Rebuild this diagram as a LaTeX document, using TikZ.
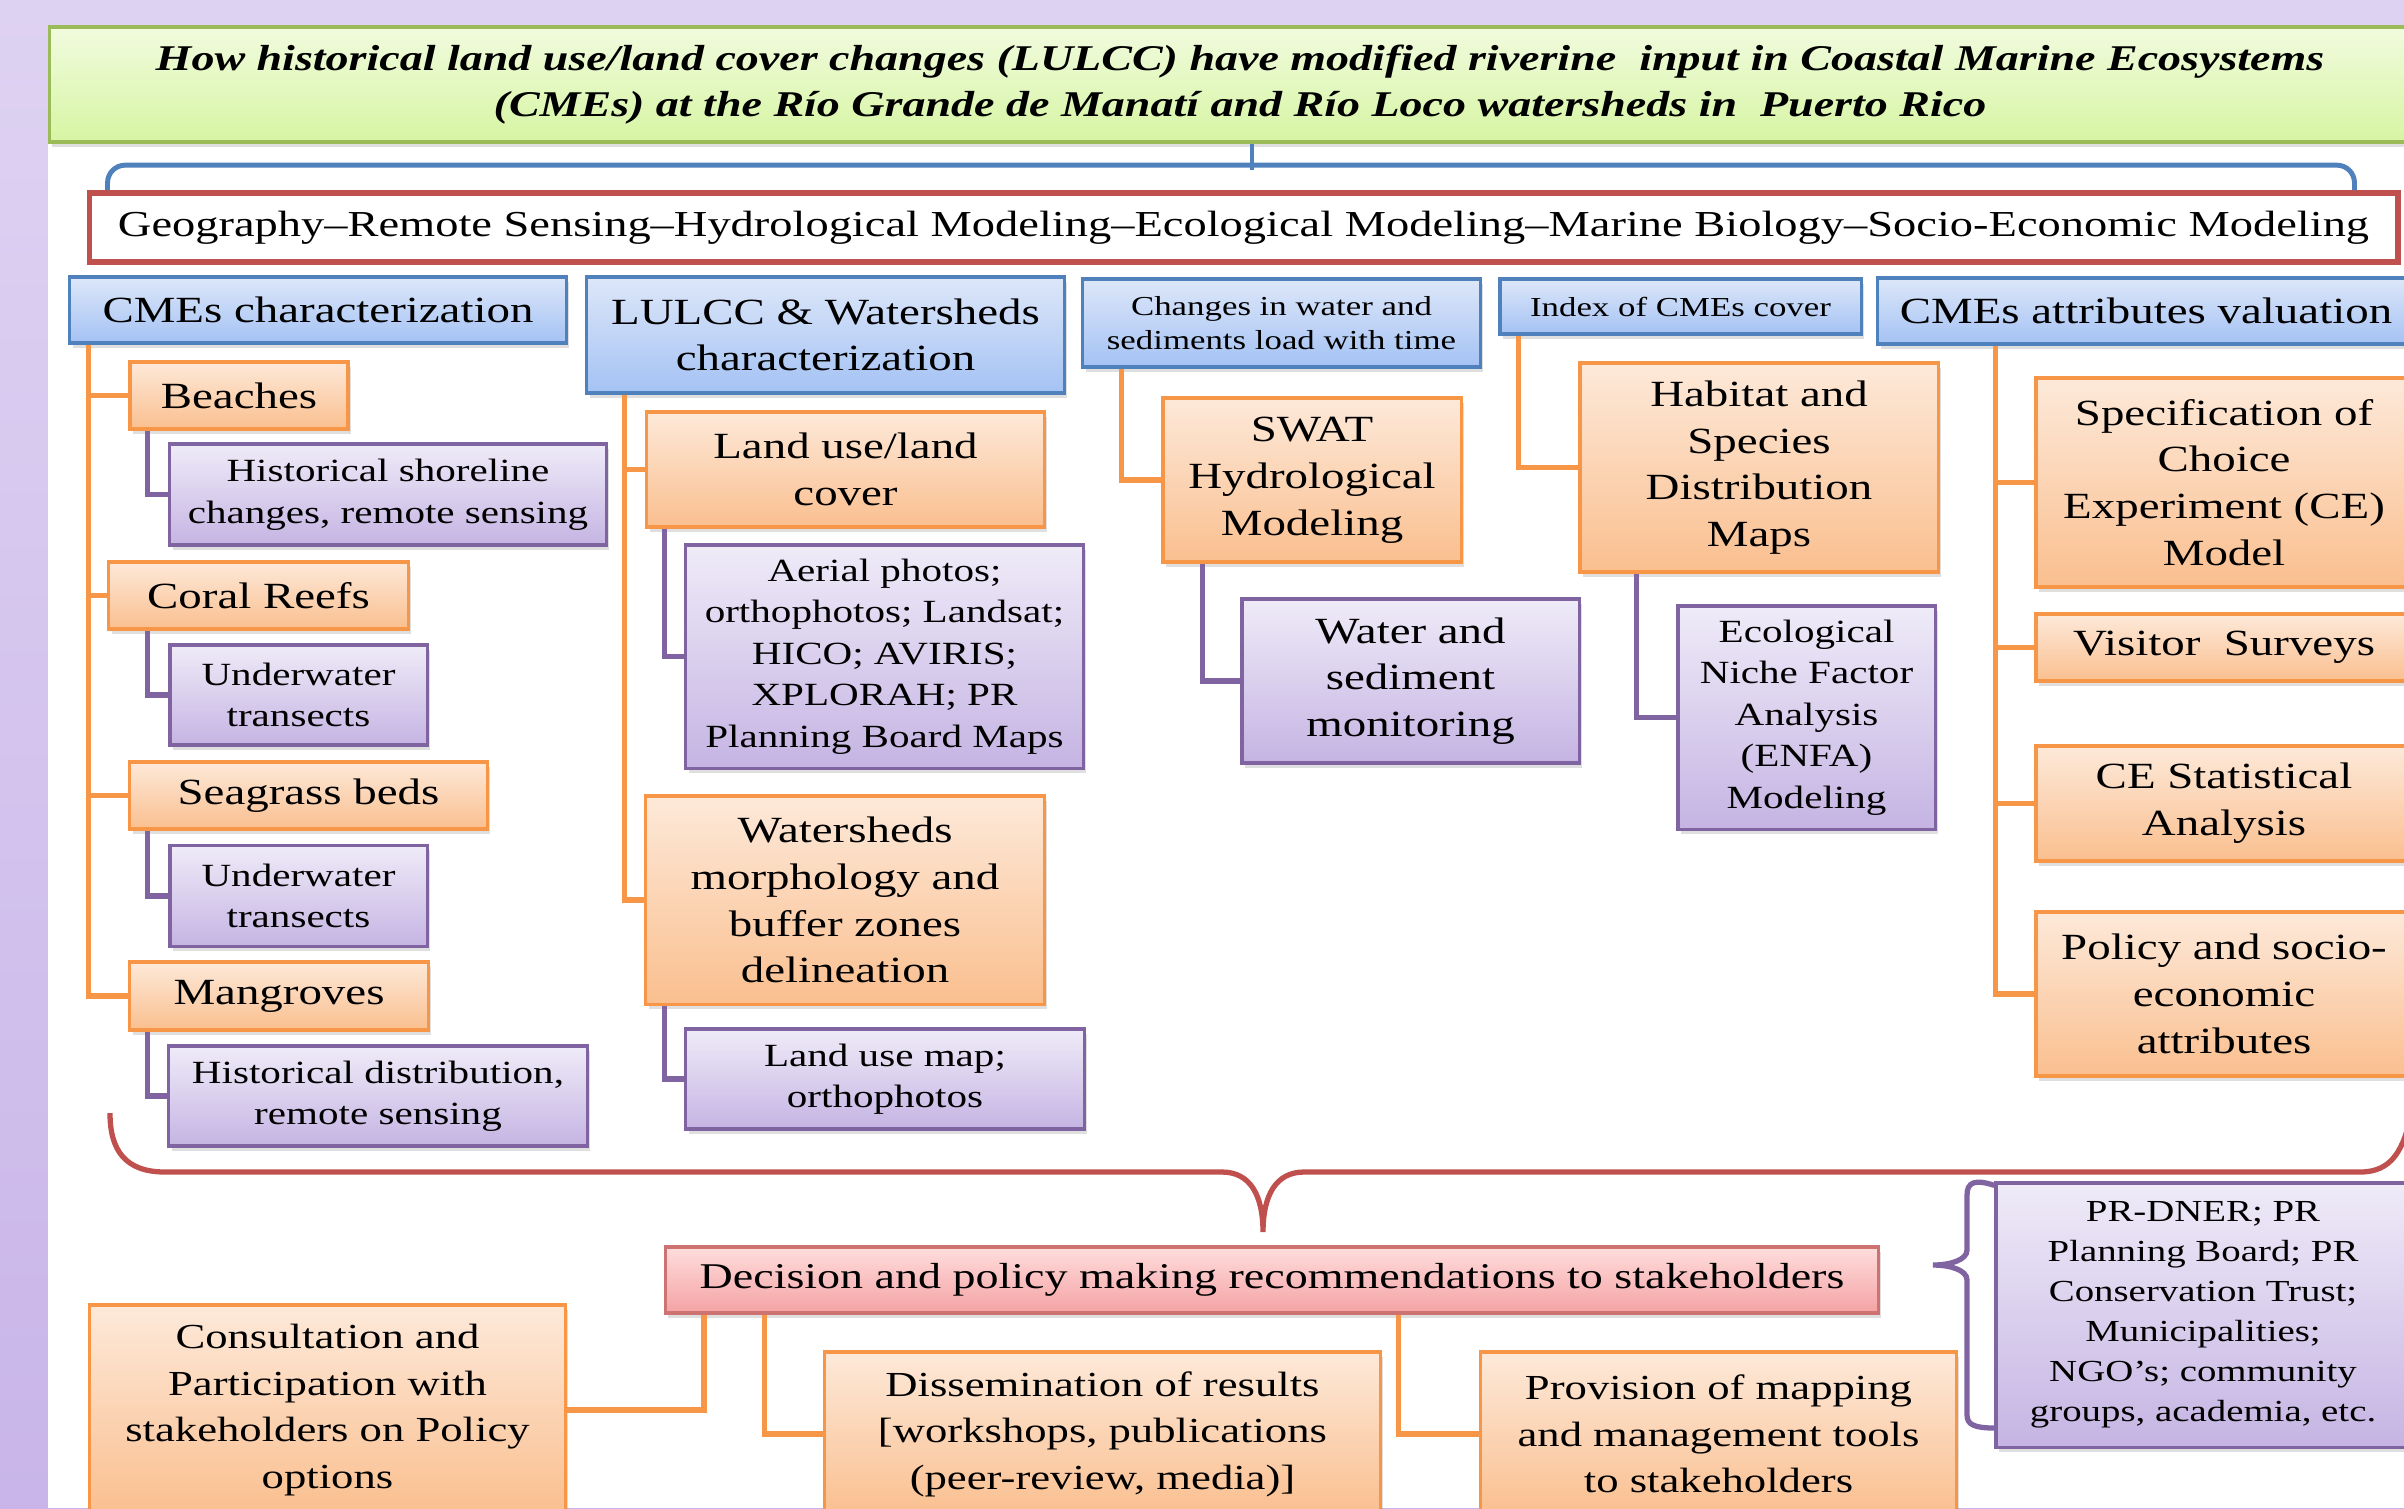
\documentclass[tikz,border=0pt]{standalone}
\usepackage{fontspec}
\setmainfont[FakeStretch=1.27]{Liberation Serif}
\usetikzlibrary{shadows}

\definecolor{lavtop}{HTML}{DED2F2}
\definecolor{lavbot}{HTML}{C9B5E9}
\definecolor{obord}{HTML}{F79646}
\definecolor{otop}{HTML}{FDE9D9}
\definecolor{obot}{HTML}{FABF8F}
\definecolor{pbord}{HTML}{8064A2}
\definecolor{ptop}{HTML}{EFEBF8}
\definecolor{pbot}{HTML}{C5B4E3}
\definecolor{bbord}{HTML}{4F81BD}
\definecolor{btop}{HTML}{DDE7F9}
\definecolor{bbot}{HTML}{A4C2F4}
\definecolor{gbord}{HTML}{9BBB59}
\definecolor{gtop}{HTML}{F1FBDE}
\definecolor{gbot}{HTML}{D6F5A3}
\definecolor{rbord}{HTML}{C0504D}
\definecolor{rtop}{HTML}{FFDDDD}
\definecolor{rbot}{HTML}{F4A2A4}

\begin{document}
\begin{tikzpicture}[x=0.01cm,y=-0.01cm,
  box/.style={draw,line width=0.9pt,align=center,inner sep=1pt,
    drop shadow={shadow xshift=0.8pt,shadow yshift=-1.4pt,opacity=0.25}},
  headbox/.style={box,draw=bbord,top color=btop,bottom color=bbot,
    font=\fontsize{10.5}{13}\selectfont},
  stepbox/.style={box,draw=obord,top color=otop,bottom color=obot,
    font=\fontsize{10.5}{13.3}\selectfont},
  toolbox/.style={box,draw=pbord,top color=ptop,bottom color=pbot,
    font=\fontsize{9.2}{11.8}\selectfont},
  oline/.style={draw=obord,line width=1.5pt},
  pline/.style={draw=pbord,line width=1.5pt},
  brline/.style={draw=bbord,line width=1.4pt},
  rline/.style={draw=rbord,line width=1.5pt}]
\useasboundingbox (0,0) rectangle (2404,1508);
\shade[top color=lavtop,bottom color=lavbot] (0,0) rectangle (2404,1508);
\fill[white] (48,27) rectangle (2404,1508);

% title and disciplines
\node[box,draw=gbord,top color=gtop,bottom color=gbot,minimum width=23.8cm,minimum height=1.15cm,
  font=\fontsize{10.3}{13.2}\selectfont\bfseries\itshape] (title) at (1240,84.5)
  {How historical land use/land cover changes (LULCC) have modified riverine\ \ input in Coastal Marine Ecosystems\\
   (CMEs) at the Río Grande de Manatí and Río Loco watersheds in\ \ Puerto Rico};
\node[draw=rbord,line width=1.6pt,fill=white,minimum width=23.07cm,minimum height=0.69cm,
  font=\fontsize{10.4}{12}\selectfont] (disc) at (1243.5,227.5)
  {Geography--Remote Sensing--Hydrological Modeling--Ecological Modeling--Marine Biology--Socio-Economic Modeling};
\draw[brline] ([xshift=1.2mm]title.south) -- ++(0,26);
\draw[brline,rounded corners=5pt] ([xshift=2.1mm]disc.north west) -- ++(0,-25) -| ([xshift=-4.6mm]disc.north east);

% headings
\node[headbox,minimum width=4.96cm,minimum height=0.66cm] (cme) at (318,310) {CMEs characterization};
\node[headbox,minimum width=4.77cm,minimum height=1.16cm] (lulcc) at (825.5,335) {LULCC \& Watersheds\\characterization};
\node[headbox,minimum width=3.97cm,minimum height=0.88cm,font=\fontsize{7.8}{9.8}\selectfont] (chg) at (1281.5,323)
  {Changes in water and\\sediments load with time};
\node[headbox,minimum width=3.61cm,minimum height=0.55cm,font=\fontsize{7.8}{9.8}\selectfont] (idx) at (1680.5,306.5) {Index of CMEs cover};
\node[headbox,minimum width=5.36cm,minimum height=0.66cm] (val) at (2146,311) {CMEs attributes valuation};

% CMEs characterization
\node[stepbox,minimum width=2.18cm,minimum height=0.67cm] (beach) at (239,395.5) {Beaches};
\node[toolbox,minimum width=4.36cm,minimum height=1.01cm] (shore) at (388,494.5) {Historical shoreline\\changes, remote sensing};
\node[stepbox,minimum width=2.99cm,minimum height=0.67cm] (coral) at (258.5,595.5) {Coral Reefs};
\node[toolbox,minimum width=2.57cm,minimum height=1cm] (uw1) at (298.5,695) {Underwater\\transects};
\node[stepbox,minimum width=3.57cm,minimum height=0.67cm] (seag) at (308.5,795.5) {Seagrass beds};
\node[toolbox,minimum width=2.57cm,minimum height=1.01cm] (uw2) at (298.5,896) {Underwater\\transects};
\node[stepbox,minimum width=2.98cm,minimum height=0.68cm] (mang) at (279,996) {Mangroves};
\node[toolbox,minimum width=4.18cm,minimum height=1cm] (hdist) at (378,1096) {Historical distribution,\\remote sensing};
\draw[oline] ([xshift=2mm]cme.south west) |- (beach.west);
\draw[oline] ([xshift=2mm]cme.south west) |- (coral.west);
\draw[oline] ([xshift=2mm]cme.south west) |- (seag.west);
\draw[oline] ([xshift=2mm]cme.south west) |- (mang.west);
\draw[pline] ([xshift=1.9mm]beach.south west) |- (shore.west);
\draw[pline] ([xshift=4mm]coral.south west) |- (uw1.west);
\draw[pline] ([xshift=1.9mm]seag.south west) |- (uw2.west);
\draw[pline] ([xshift=1.9mm]mang.south west) |- (hdist.west);

% LULCC and watersheds
\node[stepbox,minimum width=3.97cm,minimum height=1.15cm] (landuse) at (845.5,469.5) {Land use/land\\cover};
\node[toolbox,minimum width=3.97cm,minimum height=2.23cm] (aerial) at (884.5,656.5)
  {Aerial photos;\\orthophotos; Landsat;\\HICO; AVIRIS;\\XPLORAH; PR\\Planning Board Maps};
\node[stepbox,minimum width=3.98cm,minimum height=2.08cm] (wshed) at (845,900) {Watersheds\\morphology and\\buffer zones\\delineation};
\node[toolbox,minimum width=3.98cm,minimum height=1cm] (lumap) at (885,1079) {Land use map;\\orthophotos};
\draw[oline] ([xshift=3.9mm]lulcc.south west) |- (landuse.west);
\draw[oline] ([xshift=3.9mm]lulcc.south west) |- (wshed.west);
\draw[pline] ([xshift=1.9mm]landuse.south west) |- (aerial.west);
\draw[pline] ([xshift=2mm]wshed.south west) |- (lumap.west);

% water and sediments
\node[stepbox,minimum width=2.98cm,minimum height=1.64cm] (swat) at (1312,480) {SWAT\\Hydrological\\Modeling};
\node[toolbox,minimum width=3.37cm,minimum height=1.64cm,font=\fontsize{10.5}{13.3}\selectfont] (wsmon) at (1410.5,681)
  {Water and\\sediment\\monitoring};
\draw[oline] ([xshift=4mm]chg.south west) |- (swat.west);
\draw[pline] ([xshift=4.1mm]swat.south west) |- (wsmon.west);

% CMEs cover
\node[stepbox,minimum width=3.58cm,minimum height=2.09cm] (habit) at (1759,467.5) {Habitat and\\Species\\Distribution\\Maps};
\node[toolbox,minimum width=2.57cm,minimum height=2.23cm] (enfa) at (1806.5,717.5)
  {Ecological\\Niche Factor\\Analysis\\(ENFA)\\Modeling};
\draw[oline] ([xshift=2mm]idx.south west) |- (habit.west);
\draw[pline] ([xshift=5.8mm]habit.south west) |- (enfa.west);

% valuation
\node[stepbox,minimum width=3.76cm,minimum height=2.09cm] (spec) at (2224,482.5) {Specification of\\Choice\\Experiment (CE)\\Model};
\node[stepbox,minimum width=3.76cm,minimum height=0.67cm] (visit) at (2224,647.5) {Visitor\ \ Surveys};
\node[stepbox,minimum width=3.76cm,minimum height=1.15cm] (cestat) at (2224,803.5) {CE Statistical\\Analysis};
\node[stepbox,minimum width=3.76cm,minimum height=1.64cm] (policy) at (2224,994) {Policy and socio-\\economic\\attributes};
\draw[oline] ([xshift=11.9mm]val.south west) |- (spec.west);
\draw[oline] ([xshift=11.9mm]val.south west) |- (visit.west);
\draw[oline] ([xshift=11.9mm]val.south west) |- (cestat.west);
\draw[oline] ([xshift=11.9mm]val.south west) |- (policy.west);

% brace to recommendations
\draw[rline] (110,1113) .. controls (110,1150) and (125,1172) .. (165,1172) -- (1222,1172)
  .. controls (1250,1172) and (1263,1195) .. (1263,1232)
  .. controls (1263,1195) and (1276,1172) .. (1304,1172) -- (2360,1172)
  .. controls (2392,1172) and (2404,1150) .. (2412,1110);

% recommendations
\node[box,draw=rbord!80,top color=rtop,bottom color=rbot,minimum width=12.12cm,minimum height=0.66cm,
  font=\fontsize{10.3}{13}\selectfont] (dec) at (1272,1280) {Decision and policy making recommendations to stakeholders};
\node[stepbox,minimum width=4.75cm,minimum height=2.1cm,font=\fontsize{10}{13.2}\selectfont] (consult) at (327.5,1410)
  {Consultation and\\Participation with\\stakeholders on Policy\\options};
\node[stepbox,minimum width=5.55cm,minimum height=1.64cm,font=\fontsize{10}{13.2}\selectfont] (dissem) at (1102.5,1434)
  {Dissemination of results\\{}[workshops, publications\\(peer-review, media)]};
\node[stepbox,minimum width=4.75cm,minimum height=1.64cm,font=\fontsize{10}{13.2}\selectfont] (prov) at (1718.5,1434)
  {Provision of mapping\\and management tools\\to stakeholders};
\node[toolbox,minimum width=4.14cm,minimum height=2.64cm,font=\fontsize{8.7}{11.4}\selectfont] (stake) at (2203,1315)
  {PR-DNER; PR\\Planning Board; PR\\Conservation Trust;\\Municipalities;\\NGO’s; community\\groups, academia, etc.};
\draw[oline] ([xshift=4mm]dec.south west) |- (consult.east);
\draw[oline] ([xshift=10mm]dec.south west) |- (dissem.west);
\draw[oline] ([xshift=73.4mm]dec.south west) |- (prov.west);
\draw[pline] ([yshift=-0.4mm]stake.north west) .. controls (1975,1179) and (1967,1182) .. (1967,1195) -- (1967,1250)
  .. controls (1967,1260) and (1950,1265) .. (1933,1265)
  .. controls (1950,1265) and (1967,1270) .. (1967,1280) -- (1967,1415)
  .. controls (1967,1425) and (1975,1428) .. (1995,1428);
\end{tikzpicture}
\end{document}
